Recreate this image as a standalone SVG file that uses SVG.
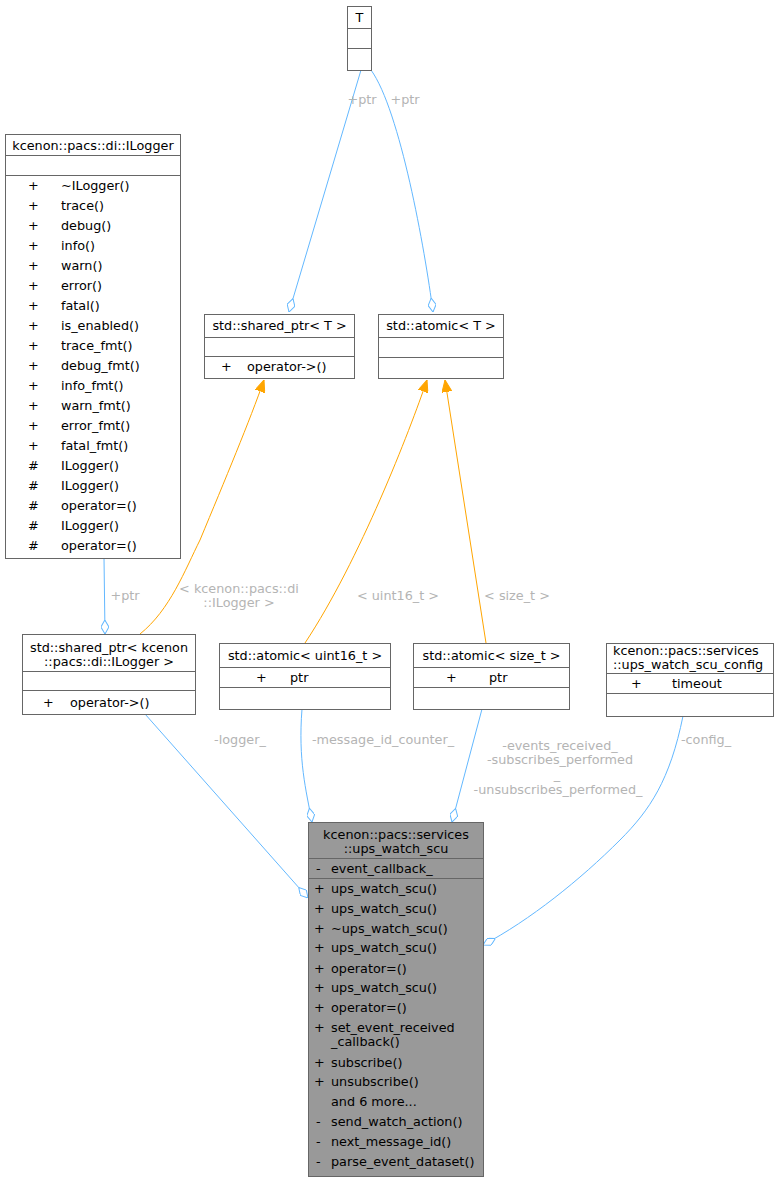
<svg xmlns="http://www.w3.org/2000/svg" width="779" height="1183" viewBox="0 0 779 1183">
<style>
text{font-family:"DejaVu Sans","Liberation Sans",sans-serif;font-size:12.8px;fill:#000}
.b{fill:#fff;stroke:#666;stroke-width:1}
.m{fill:#999;stroke:#666;stroke-width:1}
.l{stroke:#666;stroke-width:1}
.c{text-anchor:middle}
.e{fill:none;stroke:#63b8ff;stroke-width:1}
.o{fill:none;stroke:#ffa500;stroke-width:1}
.lb{fill:#b4b4b4;text-anchor:middle}
</style>
<defs>
<marker id="d" viewBox="0 0 14 8" refX="14" refY="4" markerWidth="14" markerHeight="8" markerUnits="userSpaceOnUse" orient="auto"><path d="M0,4 L7,0 L14,4 L7,8 Z" fill="#fff" stroke="#63b8ff"/></marker>
<marker id="a" viewBox="0 0 12 10" refX="12" refY="5" markerWidth="12" markerHeight="10" markerUnits="userSpaceOnUse" orient="auto"><path d="M0,0 L12,5 L0,10 Z" fill="#ffa500" stroke="#ffa500"/></marker>
</defs>
<g id="edges">
<path class="e" d="M361,70 L289,312" marker-end="url(#d)"/>
<text class="lb" x="362" y="104">+ptr</text>
<path class="e" d="M371,70 C400,110 425,250 433,312" marker-end="url(#d)"/>
<text class="lb" x="405" y="104">+ptr</text>
<path class="o" d="M140,634 C170,610 185,570 200,540 C225,480 250,420 264,380" marker-end="url(#a)"/>
<text class="lb" x="239" y="593">&lt; kcenon::pacs::di</text>
<text class="lb" x="239" y="607">::ILogger &gt;</text>
<path class="o" d="M305,643 C360,560 410,430 427,380" marker-end="url(#a)"/>
<text class="lb" x="398" y="600">&lt; uint16_t &gt;</text>
<path class="o" d="M486,643 L445,380" marker-end="url(#a)"/>
<text class="lb" x="517" y="600">&lt; size_t &gt;</text>
<path class="e" d="M104,558 L105,634" marker-end="url(#d)"/>
<text class="lb" x="125" y="600">+ptr</text>
<path class="e" d="M145,714 L308,898" marker-end="url(#d)"/>
<text class="lb" x="240" y="744">-logger_</text>
<path class="e" d="M302,709 C298,760 306,790 312,822" marker-end="url(#d)"/>
<text class="lb" x="383" y="744">-message_id_counter_</text>
<path class="e" d="M482,709 L452,822" marker-end="url(#d)"/>
<text class="lb" x="560" y="750">-events_received_</text>
<text class="lb" x="560" y="764">-subscribes_performed</text>
<text class="lb" x="557" y="779">_</text>
<text class="lb" x="558" y="794">-unsubscribes_performed_</text>
<path class="e" d="M683,716 C670,780 650,810 620,840 C580,880 530,920 483,945" marker-end="url(#d)"/>
<text class="lb" x="706" y="744">-config_</text>
</g>
<g id="T">
<rect class="b" x="347.5" y="6.5" width="24" height="64"/>
<line class="l" x1="347.5" y1="28.5" x2="371.5" y2="28.5"/><line class="l" x1="347.5" y1="48.5" x2="371.5" y2="48.5"/>
<text class="c" x="359.5" y="22">T</text>
</g>
<g id="ILogger">
<rect class="b" x="5.5" y="134.5" width="175" height="424"/>
<line class="l" x1="5.5" y1="155.5" x2="180.5" y2="155.5"/><line class="l" x1="5.5" y1="175.5" x2="180.5" y2="175.5"/>
<text class="c" x="93" y="150">kcenon::pacs::di::ILogger</text>
<g>
<text x="28" y="190">+</text><text x="61" y="190">~ILogger()</text>
<text x="28" y="210">+</text><text x="61" y="210">trace()</text>
<text x="28" y="230">+</text><text x="61" y="230">debug()</text>
<text x="28" y="250">+</text><text x="61" y="250">info()</text>
<text x="28" y="270">+</text><text x="61" y="270">warn()</text>
<text x="28" y="290">+</text><text x="61" y="290">error()</text>
<text x="28" y="310">+</text><text x="61" y="310">fatal()</text>
<text x="28" y="330">+</text><text x="61" y="330">is_enabled()</text>
<text x="28" y="350">+</text><text x="61" y="350">trace_fmt()</text>
<text x="28" y="370">+</text><text x="61" y="370">debug_fmt()</text>
<text x="28" y="390">+</text><text x="61" y="390">info_fmt()</text>
<text x="28" y="410">+</text><text x="61" y="410">warn_fmt()</text>
<text x="28" y="430">+</text><text x="61" y="430">error_fmt()</text>
<text x="28" y="450">+</text><text x="61" y="450">fatal_fmt()</text>
<text x="28" y="470">#</text><text x="61" y="470">ILogger()</text>
<text x="28" y="490">#</text><text x="61" y="490">ILogger()</text>
<text x="28" y="510">#</text><text x="61" y="510">operator=()</text>
<text x="28" y="530">#</text><text x="61" y="530">ILogger()</text>
<text x="28" y="550">#</text><text x="61" y="550">operator=()</text>
</g>
</g>
<g id="sharedT">
<rect class="b" x="204.5" y="314.5" width="150" height="64"/>
<line class="l" x1="204.5" y1="337.5" x2="354.5" y2="337.5"/><line class="l" x1="204.5" y1="356.5" x2="354.5" y2="356.5"/>
<text class="c" x="279.5" y="330">std::shared_ptr&lt; T &gt;</text>
<text x="221" y="371">+</text><text x="247" y="371">operator-&gt;()</text>
</g>
<g id="atomicT">
<rect class="b" x="378.5" y="314.5" width="125" height="64"/>
<line class="l" x1="378.5" y1="337.5" x2="503.5" y2="337.5"/><line class="l" x1="378.5" y1="357.5" x2="503.5" y2="357.5"/>
<text class="c" x="441" y="330">std::atomic&lt; T &gt;</text>
</g>
<g id="sharedILogger">
<rect class="b" x="22.5" y="634.5" width="173" height="80"/>
<line class="l" x1="22.5" y1="671.5" x2="195.5" y2="671.5"/><line class="l" x1="22.5" y1="690.5" x2="195.5" y2="690.5"/>
<text class="c" x="109" y="652">std::shared_ptr&lt; kcenon</text>
<text class="c" x="109" y="666">::pacs::di::ILogger &gt;</text>
<text x="43" y="707">+</text><text x="70" y="707">operator-&gt;()</text>
</g>
<g id="atomicU16">
<rect class="b" x="219.5" y="643.5" width="171" height="66"/>
<line class="l" x1="219.5" y1="667.5" x2="390.5" y2="667.5"/><line class="l" x1="219.5" y1="687.5" x2="390.5" y2="687.5"/>
<text class="c" x="305" y="660">std::atomic&lt; uint16_t &gt;</text>
<text x="256" y="682">+</text><text x="290" y="682">ptr</text>
</g>
<g id="atomicSize">
<rect class="b" x="413.5" y="643.5" width="156" height="66"/>
<line class="l" x1="413.5" y1="667.5" x2="569.5" y2="667.5"/><line class="l" x1="413.5" y1="687.5" x2="569.5" y2="687.5"/>
<text class="c" x="491.5" y="660">std::atomic&lt; size_t &gt;</text>
<text x="446" y="682">+</text><text x="489" y="682">ptr</text>
</g>
<g id="config">
<rect class="b" x="606.5" y="643.5" width="167" height="73"/>
<line class="l" x1="606.5" y1="673.5" x2="773.5" y2="673.5"/><line class="l" x1="606.5" y1="693.5" x2="773.5" y2="693.5"/>
<text x="613" y="655">kcenon::pacs::services</text>
<text x="613" y="669">::ups_watch_scu_config</text>
<text x="631" y="688">+</text><text x="672" y="688">timeout</text>
</g>
<g id="main">
<rect class="m" x="308.5" y="822.5" width="175" height="354"/>
<line class="l" x1="308.5" y1="858.5" x2="483.5" y2="858.5"/><line class="l" x1="308.5" y1="878.5" x2="483.5" y2="878.5"/>
<text class="c" x="396" y="839">kcenon::pacs::services</text>
<text class="c" x="396" y="853">::ups_watch_scu</text>
<text x="316" y="873">-</text><text x="331" y="873">event_callback_</text>
<text x="314" y="893">+</text><text x="331" y="893">ups_watch_scu()</text>
<text x="314" y="913">+</text><text x="331" y="913">ups_watch_scu()</text>
<text x="314" y="933">+</text><text x="331" y="933">~ups_watch_scu()</text>
<text x="314" y="952">+</text><text x="331" y="952">ups_watch_scu()</text>
<text x="314" y="973">+</text><text x="331" y="973">operator=()</text>
<text x="314" y="992">+</text><text x="331" y="992">ups_watch_scu()</text>
<text x="314" y="1012">+</text><text x="331" y="1012">operator=()</text>
<text x="314" y="1032">+</text><text x="331" y="1032">set_event_received</text>
<text x="331" y="1046">_callback()</text>
<text x="314" y="1067">+</text><text x="331" y="1067">subscribe()</text>
<text x="314" y="1086">+</text><text x="331" y="1086">unsubscribe()</text>
<text x="331" y="1106">and 6 more...</text>
<text x="316" y="1126">-</text><text x="331" y="1126">send_watch_action()</text>
<text x="316" y="1146">-</text><text x="331" y="1146">next_message_id()</text>
<text x="316" y="1166">-</text><text x="331" y="1166">parse_event_dataset()</text>
</g>
</svg>
